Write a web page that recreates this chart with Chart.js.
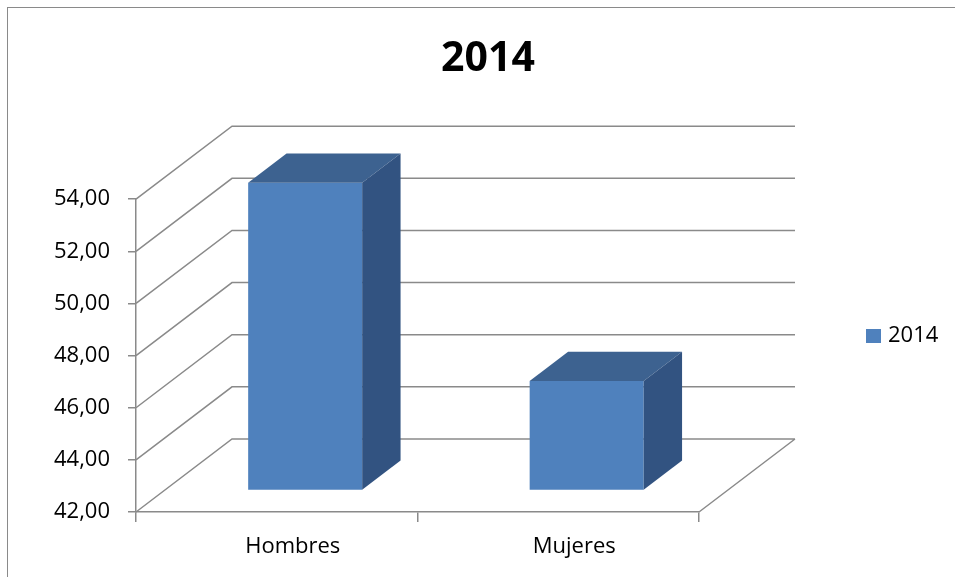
<!DOCTYPE html>
<html>
<head>
<meta charset="utf-8">
<script src="https://cdn.jsdelivr.net/npm/chart.js@4.4.1/dist/chart.umd.min.js"></script>
<style>
  body { margin: 0; background: #fff; }
  canvas { display: block; }
</style>
</head>
<body>
<canvas id="barChart" width="955" height="577"></canvas>
<script>
// Datos del gráfico
const categorias = ["Hombres", "Mujeres"];
const valores2014 = [53.8, 46.2];
const serieNombre = "2014";
const yMin = 42;
const yMax = 54;
const yPaso = 2;

// Colores estilo Excel
const colorFrente = '#4F81BD';
const colorArriba = '#3D6290';
const colorLado = '#325381';
const colorRejilla = '#8a8a8a';

// Profundidad del "3D"
const fondo = { dx: 96, dy: -73 };
const frenteBarra = 0.296;
const largoBarra = 0.4;

const efecto3d = {
  id: 'efecto3d',
  beforeDraw(chart) {
    const ctx = chart.ctx;
    ctx.save();
    ctx.strokeStyle = '#8a8a8a';
    ctx.lineWidth = 1;
    ctx.strokeRect(7.5, 7.5, 1200, 1200);
    ctx.restore();
  },
  beforeDatasetsDraw(chart) {
    const ctx = chart.ctx;
    const area = chart.chartArea;
    const y = chart.scales.y;
    ctx.save();
    ctx.strokeStyle = colorRejilla;
    ctx.lineWidth = 1.5;
    ctx.beginPath();
    y.ticks.forEach(function(t) {
      const py = y.getPixelForValue(t.value);
      ctx.moveTo(area.left, py);
      ctx.lineTo(area.left + fondo.dx, py + fondo.dy);
      ctx.lineTo(area.right + fondo.dx, py + fondo.dy);
    });
    // lado derecho del piso
    ctx.moveTo(area.right, area.bottom);
    ctx.lineTo(area.right + fondo.dx, area.bottom + fondo.dy);
    ctx.stroke();
    ctx.restore();

    // las barras se dibujan dentro del piso
    ctx.save();
    ctx.translate(fondo.dx * frenteBarra, fondo.dy * frenteBarra);
  },
  afterDatasetsDraw(chart) {
    const ctx = chart.ctx;
    const bdx = fondo.dx * largoBarra;
    const bdy = fondo.dy * largoBarra;
    chart.getDatasetMeta(0).data.forEach(function(bar) {
      const p = bar.getProps(['x', 'y', 'base', 'width'], true);
      const l = p.x - p.width / 2;
      const r = p.x + p.width / 2;
      // cara de arriba
      ctx.fillStyle = colorArriba;
      ctx.beginPath();
      ctx.moveTo(l, p.y);
      ctx.lineTo(l + bdx, p.y + bdy);
      ctx.lineTo(r + bdx, p.y + bdy);
      ctx.lineTo(r, p.y);
      ctx.closePath();
      ctx.fill();
      // cara lateral
      ctx.fillStyle = colorLado;
      ctx.beginPath();
      ctx.moveTo(r, p.y);
      ctx.lineTo(r + bdx, p.y + bdy);
      ctx.lineTo(r + bdx, p.base + bdy);
      ctx.lineTo(r, p.base);
      ctx.closePath();
      ctx.fill();
    });
    ctx.restore();
  },
  afterDraw(chart) {
    // leyenda a la derecha
    const ctx = chart.ctx;
    const ds = chart.data.datasets[0];
    ctx.save();
    ctx.fillStyle = ds.backgroundColor;
    ctx.fillRect(866, 329, 15, 14);
    ctx.fillStyle = '#000';
    ctx.font = "22px 'Open Sans', sans-serif";
    ctx.textBaseline = 'middle';
    ctx.fillText(ds.label, 888, 336);
    ctx.restore();
  }
};

Chart.defaults.font.family = "'Open Sans', sans-serif";
Chart.defaults.color = '#000';

const ctx = document.getElementById('barChart').getContext('2d');
const barChart = new Chart(ctx, {
  type: 'bar',
  data: {
    labels: categorias,
    datasets: [{
      label: serieNombre,
      data: valores2014,
      base: yMin,
      backgroundColor: colorFrente,
      borderWidth: 0,
      barPercentage: 1,
      categoryPercentage: 0.405,
      clip: false
    }]
  },
  options: {
    responsive: false,
    animation: false,
    layout: { padding: { left: 21, right: 0, top: 0, bottom: 0 } },
    plugins: {
      title: {
        display: true,
        text: '2014',
        font: { size: 41, weight: 'bold' },
        padding: { top: 35, bottom: 115 }
      },
      legend: { display: false },
      tooltip: { enabled: false }
    },
    scales: {
      x: {
        grid: {
          drawOnChartArea: false,
          tickLength: 10,
          color: colorRejilla,
          lineWidth: 1.5
        },
        border: { color: colorRejilla, width: 1.5 },
        ticks: { font: { size: 22 }, padding: 12, labelOffset: 16 },
        afterFit: function(scale) { scale.height = 65; }
      },
      y: {
        min: yMin,
        max: yMax,
        grid: {
          drawOnChartArea: false,
          tickLength: 8,
          color: colorRejilla,
          lineWidth: 1.5
        },
        border: { color: colorRejilla, width: 1.5 },
        ticks: {
          stepSize: yPaso,
          font: { size: 22 },
          padding: 18,
          callback: function(v) { return v.toFixed(2).replace('.', ','); }
        },
        afterFit: function(scale) { scale.width = 115; }
      },
      // espacio a la derecha para el fondo 3D y la leyenda
      espacio: {
        type: 'linear',
        position: 'right',
        grid: { display: false },
        border: { display: false },
        ticks: { display: false },
        afterFit: function(scale) { scale.width = 256; }
      }
    }
  },
  plugins: [efecto3d]
});
</script>
</body>
</html>
